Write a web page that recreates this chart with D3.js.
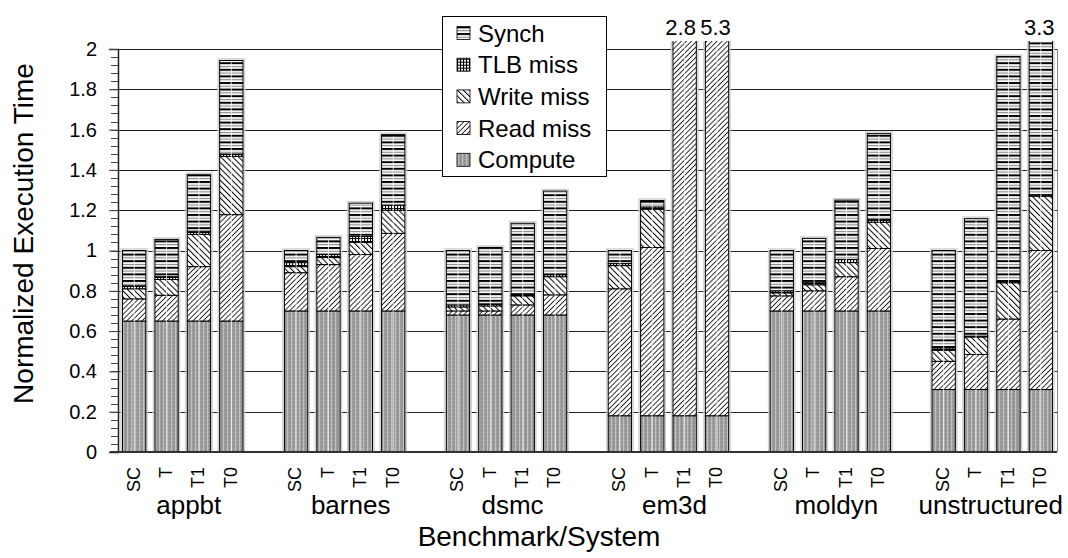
<!DOCTYPE html>
<html>
<head>
<meta charset="utf-8">
<script src="https://cdn.jsdelivr.net/npm/d3@7"></script>
<style>
  body { margin: 0; background: #fff; }
  text { font-family: "Liberation Sans", Arial, sans-serif; fill: #000; }
</style>
</head>
<body>
<div id="chart"></div>
<script>
// Data
// ==============================
var benchmarks = ["appbt", "barnes", "dsmc", "em3d", "moldyn", "unstructured"];
var systems = ["SC", "T", "T1", "T0"];
var seriesNames = ["Compute", "Read miss", "Write miss", "TLB miss", "Synch"];

// one value per bar, benchmark by benchmark, SC/T/T1/T0 inside each
var compute   = [0.65, 0.65, 0.65, 0.65,  0.70, 0.70, 0.70, 0.70,  0.68, 0.68, 0.68, 0.68,
                 0.18, 0.18, 0.18, 0.18,  0.70, 0.70, 0.70, 0.70,  0.31, 0.31, 0.31, 0.31];
var readMiss  = [0.11, 0.128, 0.27, 0.528,  0.19, 0.23, 0.28, 0.385,  0.02, 0.02, 0.05, 0.10,
                 0.63, 0.835, 2.45, 4.90,   0.075, 0.10, 0.17, 0.31,  0.14, 0.174, 0.35, 0.69];
var writeMiss = [0.05, 0.078, 0.16, 0.289,  0.03, 0.035, 0.06, 0.115,  0.02, 0.025, 0.045, 0.09,
                 0.115, 0.19, 0.10, 0.10,   0.015, 0.03, 0.07, 0.13,  0.055, 0.087, 0.18, 0.27];
var tlbMiss   = [0.015, 0.014, 0.016, 0.012,  0.02, 0.015, 0.03, 0.025,  0.01, 0.01, 0.005, 0.01,
                 0.01, 0.011, 0.02, 0.02,     0.01, 0.01, 0.015, 0.015,  0.012, 0.004, 0.006, 0.006];
var synch     = [0.175, 0.185, 0.28, 0.464,  0.06, 0.085, 0.165, 0.35,  0.27, 0.28, 0.355, 0.415,
                 0.065, 0.032, 0.05, 0.10,   0.20, 0.22, 0.295, 0.425,  0.483, 0.583, 1.117, 2.024];

var yTicks = [0, 0.2, 0.4, 0.6, 0.8, 1, 1.2, 1.4, 1.6, 1.8, 2];

var svgWidth = 1068;
var svgHeight = 558;

var margin = { top: 49, right: 11, bottom: 106, left: 118 };
var width = svgWidth - margin.left - margin.right;
var height = svgHeight - margin.top - margin.bottom;

var svg = d3.select("#chart")
  .append("svg")
  .attr("width", svgWidth)
  .attr("height", svgHeight);

// Patterns
// ==============================
var defs = svg.append("defs");

var pCompute = defs.append("pattern").attr("id", "p-compute")
  .attr("patternUnits", "userSpaceOnUse").attr("width", 4).attr("height", 4);
pCompute.append("rect").attr("width", 4).attr("height", 4).attr("fill", "#a0a0a0");
pCompute.append("rect").attr("x", 1).attr("width", 1).attr("height", 4).attr("fill", "#c0c0c0");
pCompute.append("rect").attr("x", 3).attr("y", 0).attr("width", 1).attr("height", 2).attr("fill", "#858585");
pCompute.append("rect").attr("x", 0).attr("y", 2).attr("width", 1).attr("height", 1).attr("fill", "#858585");

var pRead = defs.append("pattern").attr("id", "p-read")
  .attr("patternUnits", "userSpaceOnUse").attr("width", 3.6).attr("height", 3.6)
  .attr("patternTransform", "rotate(45)");
pRead.append("rect").attr("width", 3.6).attr("height", 3.6).attr("fill", "#fff");
pRead.append("line").attr("x1", 0).attr("y1", 0).attr("x2", 0).attr("y2", 3.6)
  .attr("stroke", "#000").attr("stroke-width", 1.6);

var pWrite = defs.append("pattern").attr("id", "p-write")
  .attr("patternUnits", "userSpaceOnUse").attr("width", 4.2).attr("height", 4.2)
  .attr("patternTransform", "rotate(-45)");
pWrite.append("rect").attr("width", 4.2).attr("height", 4.2).attr("fill", "#fff");
pWrite.append("line").attr("x1", 0).attr("y1", 0).attr("x2", 0).attr("y2", 4.2)
  .attr("stroke", "#000").attr("stroke-width", 2);

var pTlb = defs.append("pattern").attr("id", "p-tlb")
  .attr("patternUnits", "userSpaceOnUse").attr("width", 3).attr("height", 3);
pTlb.append("rect").attr("width", 3).attr("height", 3).attr("fill", "#fff");
pTlb.append("path").attr("d", "M0,0.5H3M0.5,0V3")
  .attr("stroke", "#000").attr("stroke-width", 1.2);

var pSynch = defs.append("pattern").attr("id", "p-synch")
  .attr("patternUnits", "userSpaceOnUse").attr("width", 8).attr("height", 6.6);
pSynch.append("rect").attr("width", 8).attr("height", 6.6).attr("fill", "#fff");
pSynch.append("line").attr("x1", 0).attr("x2", 8).attr("y1", 1).attr("y2", 1)
  .attr("stroke", "#000").attr("stroke-width", 2);
pSynch.append("line").attr("x1", 0).attr("x2", 8).attr("y1", 4.3).attr("y2", 4.3)
  .attr("stroke", "#8a8a8a").attr("stroke-width", 1.2);

var fills = {
  "Compute": "url(#p-compute)",
  "Read miss": "url(#p-read)",
  "Write miss": "url(#p-write)",
  "TLB miss": "url(#p-tlb)",
  "Synch": "url(#p-synch)"
};

// Build table
// ==============================
var columns = [compute, readMiss, writeMiss, tlbMiss, synch];
var rows = [];
benchmarks.forEach(function(b, i) {
  systems.forEach(function(s, j) {
    var k = i * systems.length + j;
    var row = { bench: b, sys: s };
    seriesNames.forEach(function(name, n) { row[name] = columns[n][k]; });
    row.total = d3.sum(seriesNames, function(name) { return row[name]; });
    rows.push(row);
  });
});

var stacked = d3.stack().keys(seriesNames)(rows);

// Scales
// ==============================
var x0 = d3.scaleBand()
  .domain(benchmarks)
  .range([0, width])
  .paddingInner(0.2)
  .paddingOuter(0);

var x1 = d3.scaleBand()
  .domain(systems)
  .range([0, x0.bandwidth()])
  .paddingInner(0.28)
  .paddingOuter(0.14);

var yScale = d3.scaleLinear()
  .domain([0, 2])
  .range([height, 0]);

var yClip = 2.04;

function barX(d) { return x0(d.bench) + x1(d.sys); }

var chartGroup = svg.append("g")
  .attr("transform", `translate(${margin.left}, ${margin.top})`);

// Gridlines and frame
// ==============================
chartGroup.append("g")
  .selectAll("line")
  .data(yTicks.slice(1))
  .enter()
  .append("line")
  .attr("x1", 0)
  .attr("x2", width)
  .attr("y1", d => Math.round(yScale(d)) + 0.5)
  .attr("y2", d => Math.round(yScale(d)) + 0.5)
  .attr("stroke", "#222")
  .attr("stroke-width", 1);

chartGroup.append("line")
  .attr("x1", width + 0.5).attr("x2", width + 0.5)
  .attr("y1", yScale(2)).attr("y2", height)
  .attr("stroke", "#888");

// Bars
// ==============================
chartGroup.append("clipPath").attr("id", "plot-clip")
  .append("rect")
  .attr("x", -5).attr("y", yScale(yClip))
  .attr("width", width + 10).attr("height", height - yScale(yClip) + 2);

var barsGroup = chartGroup.append("g").attr("clip-path", "url(#plot-clip)");

// light halo around each bar
barsGroup.selectAll(".halo")
  .data(rows)
  .enter()
  .append("rect")
  .attr("class", "halo")
  .attr("x", d => barX(d) - 1.5)
  .attr("y", d => yScale(Math.min(d.total, yClip)) - 1.5)
  .attr("width", x1.bandwidth() + 3)
  .attr("height", d => height - yScale(Math.min(d.total, yClip)) + 1.5)
  .attr("fill", "none")
  .attr("stroke", "#d2d2d2")
  .attr("stroke-width", 1.5);

barsGroup.selectAll(".layer")
  .data(stacked)
  .enter()
  .append("g")
  .attr("class", "layer")
  .attr("fill", d => fills[d.key])
  .selectAll("rect")
  .data(d => d)
  .enter()
  .append("rect")
  .attr("x", d => barX(d.data))
  .attr("y", d => yScale(d[1]))
  .attr("width", x1.bandwidth())
  .attr("height", d => Math.max(0, yScale(d[0]) - yScale(d[1])))
  .attr("stroke", "#000")
  .attr("stroke-width", 1);

// white centre seam seen in the original bars
barsGroup.selectAll(".seam")
  .data(rows)
  .enter()
  .append("line")
  .attr("class", "seam")
  .attr("x1", d => barX(d) + x1.bandwidth() / 2)
  .attr("x2", d => barX(d) + x1.bandwidth() / 2)
  .attr("y1", d => yScale(Math.min(d.total, yClip)) + 2)
  .attr("y2", height - 1)
  .attr("stroke", "#fff")
  .attr("stroke-width", 1)
  .attr("opacity", 0.75);

// Values of clipped bars; nudge a label left when its neighbour is also clipped
var overRows = rows.filter(d => d.total > yClip);
chartGroup.selectAll(".over")
  .data(overRows)
  .enter()
  .append("text")
  .attr("class", "over")
  .attr("x", function(d, i) {
    var next = overRows[i + 1];
    var shift = (next && next.bench === d.bench) ? -4 : -1.5;
    return barX(d) + x1.bandwidth() / 2 + shift;
  })
  .attr("y", yScale(yClip) - 6)
  .attr("text-anchor", "middle")
  .style("font-size", "22px")
  .text(d => d3.format(".1f")(d.total));

// Axes
// ==============================
var minorTicks = d3.range(0, 2.0001, 0.04);
chartGroup.append("g")
  .selectAll("line")
  .data(minorTicks)
  .enter()
  .append("line")
  .attr("x1", -7).attr("x2", 0)
  .attr("y1", d => Math.round(yScale(d)) + 0.5)
  .attr("y2", d => Math.round(yScale(d)) + 0.5)
  .attr("stroke", "#444");

var yAxis = d3.axisLeft(yScale)
  .tickValues(yTicks)
  .tickSize(9)
  .tickPadding(12)
  .tickFormat(d3.format("~g"));

var yAxisG = chartGroup.append("g").call(yAxis);
yAxisG.select(".domain").attr("stroke", "#222").attr("stroke-width", 1.5);
yAxisG.selectAll(".tick line").attr("stroke", "#444");
yAxisG.selectAll("text")
  .style("font-size", "20px")
  .style("font-family", "Liberation Sans, Arial, sans-serif")
  .attr("fill", "#000");

chartGroup.append("line")
  .attr("x1", -8).attr("x2", width)
  .attr("y1", height).attr("y2", height)
  .attr("stroke", "#333")
  .attr("stroke-width", 2);

// System labels under each bar
chartGroup.selectAll(".sys")
  .data(rows)
  .enter()
  .append("text")
  .attr("class", "sys")
  .attr("transform", d => `translate(${barX(d) + x1.bandwidth() / 2 - 1}, ${height + 15}) rotate(-90)`)
  .attr("dy", "0.35em")
  .attr("text-anchor", "end")
  .style("font-size", "18px")
  .text(d => d.sys);

// Benchmark labels, kept inside the right edge
chartGroup.selectAll(".bench")
  .data(benchmarks)
  .enter()
  .append("text")
  .attr("class", "bench")
  .attr("y", height + 62)
  .attr("text-anchor", "middle")
  .style("font-size", "26px")
  .text(d => d)
  .attr("x", function(d) {
    var half = this.getComputedTextLength() / 2;
    return Math.min(x0(d) + x0.bandwidth() / 2 + 6, svgWidth - margin.left - 5 - half);
  });

// Axis titles
svg.append("text")
  .attr("transform", `translate(33, ${margin.top + height / 2 - 17}) rotate(-90)`)
  .attr("text-anchor", "middle")
  .style("font-size", "28px")
  .text("Normalized Execution Time");

svg.append("text")
  .attr("x", 539)
  .attr("y", 546)
  .attr("text-anchor", "middle")
  .style("font-size", "28px")
  .text("Benchmark/System");

// Legend
// ==============================
var legend = svg.append("g").attr("transform", "translate(442, 16)");
legend.append("rect")
  .attr("x", 0.5).attr("y", 0.5)
  .attr("width", 164).attr("height", 160)
  .attr("fill", "#fff")
  .attr("stroke", "#000");

var legendItems = legend.selectAll(".item")
  .data(seriesNames.slice().reverse())
  .enter()
  .append("g")
  .attr("class", "item")
  .attr("transform", (d, i) => `translate(15, ${17 + i * 31.7})`);

legendItems.append("rect")
  .attr("x", 0).attr("y", -6.5)
  .attr("width", 13).attr("height", 13)
  .attr("fill", d => fills[d])
  .attr("stroke", "#000")
  .attr("stroke-width", 0.8);

legendItems.append("text")
  .attr("x", 21)
  .attr("dy", "0.36em")
  .style("font-size", "24px")
  .text(d => d);
</script>
</body>
</html>
